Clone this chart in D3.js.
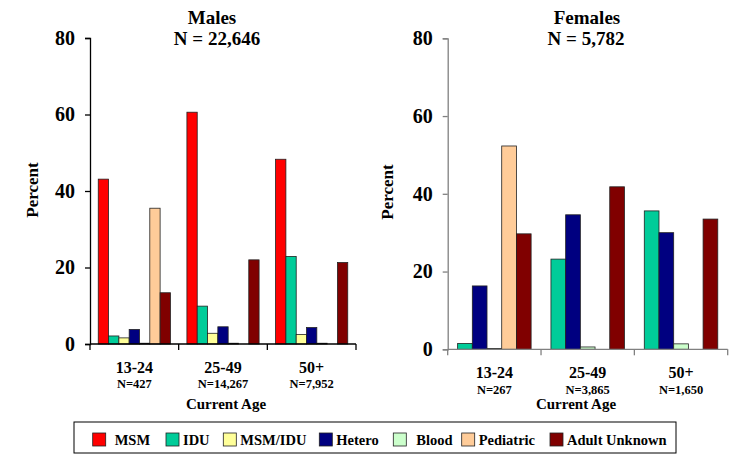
<!DOCTYPE html>
<html>
<head>
<meta charset="utf-8">
<script src="https://cdn.jsdelivr.net/npm/d3@7"></script>
<style>
  body { margin:0; background:#fff; }
</style>
</head>
<body>
<svg id="chart" width="734" height="455"></svg>
<script>
// age groups (categories) + sample sizes
var ages = ["13-24", "25-49", "50+"];
var maleN = ["N=427", "N=14,267", "N=7,952"];
var femaleN = ["N=267", "N=3,865", "N=1,650"];
var yTicks = [0, 20, 40, 60, 80];

// transmission categories
var categories = ["MSM", "IDU", "MSM/IDU", "Hetero", "Blood", "Pediatric", "Adult Unknown"];
var colors = ["#FF0000", "#00CC99", "#FFFF99", "#000080", "#CCFFCC", "#FFCC99", "#800000"];

// males, percent per age group (13-24, 25-49, 50+)
var maleMSM       = [43.1, 60.6, 48.3];
var maleIDU       = [2.1, 9.9, 22.9];
var maleMSMIDU    = [1.6, 2.8, 2.5];
var maleHetero    = [3.8, 4.5, 4.3];
var maleBlood     = [0.2, 0.2, 0.2];
var malePediatric = [35.5, 0, 0];
var maleUnknown   = [13.4, 22.0, 21.3];

// females (no MSM / MSM-IDU bars)
var femaleIDU       = [1.5, 23.2, 35.6];
var femaleHetero    = [16.3, 34.6, 30.0];
var femaleBlood     = [0.2, 0.6, 1.4];
var femalePediatric = [52.3, 0, 0];
var femaleUnknown   = [29.7, 41.8, 33.5];

var FONT = "'Liberation Serif', 'Times New Roman', serif";
var svg = d3.select("#chart");
var color = d3.scaleOrdinal().domain(categories).range(colors);

// bold serif text helper
function label(g, x, y, size, str, anchor) {
    return g.append("text").attr("x", x).attr("y", y)
        .attr("text-anchor", anchor || "middle")
        .style("font-family", FONT).style("font-weight", "bold")
        .style("font-size", size + "px").style("fill", "#000")
        .text(str);
}

function drawPanel(opt) {
    var g = svg.append("g");
    var x0 = d3.scaleBand().domain(ages).range([opt.left, opt.right]).padding(0);
    var x1 = d3.scaleBand().domain(opt.keys).range([0, x0.bandwidth()])
        .paddingInner(0).paddingOuter(opt.outer);
    var y = d3.scaleLinear().domain([0, 80]).range([opt.bottom, opt.top]);

    // bars
    ages.forEach(function(age, i) {
        opt.keys.forEach(function(k, j) {
            var v = opt.values[j][i];
            if (!v) return;
            g.append("rect")
                .attr("x", x0(age) + x1(k))
                .attr("y", y(v))
                .attr("width", x1.bandwidth())
                .attr("height", y(0) - y(v))
                .style("fill", color(k))
                .style("stroke", "#222")
                .style("stroke-width", 0.8);
        });
    });

    // y axis
    var ya = g.append("g")
        .attr("transform", "translate(" + opt.left + ",0)")
        .call(d3.axisLeft(y).tickValues(yTicks).tickSize(5).tickPadding(10));
    ya.select(".domain").attr("stroke", opt.axisColor).attr("stroke-width", 1.3);
    ya.selectAll(".tick line").attr("stroke", opt.axisColor).attr("stroke-width", 1.3);
    ya.selectAll(".tick text").style("font-size", "20px")
        .style("font-family", FONT).style("font-weight", "bold").attr("fill", "#000");

    // x axis: ticks sit on category boundaries
    var bounds = ages.map(function(a) { return x0(a); }).concat([opt.right]);
    g.append("line").attr("x1", opt.left).attr("x2", opt.right)
        .attr("y1", y(0)).attr("y2", y(0))
        .attr("stroke", opt.axisColor).attr("stroke-width", 1.3);
    g.selectAll(".xt").data(bounds).enter().append("line")
        .attr("x1", function(d) { return d; }).attr("x2", function(d) { return d; })
        .attr("y1", y(0)).attr("y2", y(0) + 6)
        .attr("stroke", opt.axisColor).attr("stroke-width", 1.3);

    // category labels
    ages.forEach(function(age, i) {
        var cx = x0(age) + x0.bandwidth() / 2;
        label(g, cx, opt.ageY, 16, age);
        label(g, cx, opt.nY, 12.5, opt.nLabels[i]);
    });

    label(g, opt.xTitleX, 409, 15, "Current Age");

    label(g, 0, 0, 17, "Percent")
        .attr("transform", "translate(" + opt.yTitleX + "," + opt.yTitleY + ") rotate(-90)");

    // title
    label(g, opt.titleX, 24, 19, opt.title);
    label(g, opt.titleX + opt.nShift, 45, 19, opt.titleN);
}

drawPanel({
    left: 90, right: 356, top: 38, bottom: 344,
    keys: categories,
    values: [maleMSM, maleIDU, maleMSMIDU, maleHetero, maleBlood, malePediatric, maleUnknown],
    outer: 0.8, axisColor: "#000",
    nLabels: maleN, ageY: 373, nY: 388, xTitleX: 226,
    yTitleX: 38, yTitleY: 190,
    title: "Males", titleN: "N = 22,646", titleX: 212, nShift: 5
});

drawPanel({
    left: 447.7, right: 727.7, top: 38.3, bottom: 349.3,
    keys: ["IDU", "Hetero", "Blood", "Pediatric", "Adult Unknown"],
    values: [femaleIDU, femaleHetero, femaleBlood, femalePediatric, femaleUnknown],
    outer: 0.675, axisColor: "#808080",
    nLabels: femaleN, ageY: 378, nY: 394, xTitleX: 576,
    yTitleX: 393, yTitleY: 192,
    title: "Females", titleN: "N = 5,782", titleX: 587, nShift: -1
});

// legend
var legX = [92.7, 166, 223.3, 319.3, 393.3, 461.7, 550];
var leg = svg.append("g");
leg.append("rect").attr("x", 74).attr("y", 422).attr("width", 602).attr("height", 31)
    .style("fill", "#fff").style("stroke", "#000").style("stroke-width", 1);
categories.forEach(function(c, i) {
    leg.append("rect").attr("x", legX[i]).attr("y", 433).attr("width", 13).attr("height", 13)
        .style("fill", color(c)).style("stroke", "#222").style("stroke-width", 0.8);
    label(leg, legX[i] + (i == 0 ? 22 : (i == 4 ? 23 : 17)), 445, 14.5, c, "start");
});
</script>
</body>
</html>
